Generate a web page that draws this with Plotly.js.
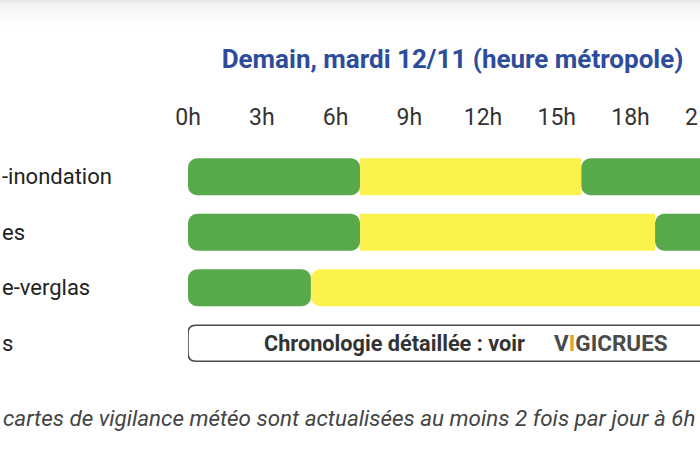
<!DOCTYPE html>
<html>
<head>
<meta charset="utf-8">
<script src="https://cdn.plot.ly/plotly-3.0.1.min.js"></script>
<style>
  html, body { margin: 0; padding: 0; background: #ffffff; overflow: hidden; width: 700px; height: 450px; }
  #chart { width: 790px; height: 450px; }
</style>
</head>
<body>
<div id="chart"></div>
<script>
// ---------- data ----------
const chartTitle = "Demain, mardi 12/11 (heure métropole)";
const rowLabels = ["-inondation", "es", "e-verglas", "s"];
const hourTicks = [0, 3, 6, 9, 12, 15, 18, 21];
const tickSuffix = "h";
// phenomenon chronology: hour breaks and vigilance level of each period
const pluieBreaks = [0, 7, 16, 24];
const pluieLevels = ["vert", "jaune", "vert"];
const oragesBreaks = [0, 7, 19, 24];
const oragesLevels = ["vert", "jaune", "vert"];
const neigeBreaks = [0, 5, 24];
const neigeLevels = ["vert", "jaune"];
const cruesText = "Chronologie détaillée : voir";
const cruesLogo = "VIGICRUES";
const footerText = "cartes de vigilance météo sont actualisées au moins 2 fois par jour à 6h";

// ---------- styles ----------
const levelColors = { vert: "#58a94b", jaune: "#fcf24e" };
const FONT = "Roboto, 'Noto Sans', sans-serif";
const W = 790, H = 450;
const M = { l: 188, r: 12, t: 149, b: 79 };
const plotW = W - M.l - M.r, plotH = H - M.t - M.b;
const px2paperX = X => (X - M.l) / plotW;
const px2paperY = Y => (H - M.b - Y) / plotH;

// ---------- build bar segments ----------
const rowsData = [
  { breaks: pluieBreaks, levels: pluieLevels },
  { breaks: oragesBreaks, levels: oragesLevels },
  { breaks: neigeBreaks, levels: neigeLevels }
];
const firstSeg = { x: [], base: [], y: [], color: [] };
const midSeg = { x: [], base: [], y: [], color: [] };
const lastSeg = { x: [], base: [], y: [], color: [] };
rowsData.forEach((row, r) => {
  const n = row.levels.length;
  for (let i = 0; i < n; i++) {
    const s = row.breaks[i], e = row.breaks[i + 1];
    const c = levelColors[row.levels[i]];
    if (i === 0) {            // drawn from its end back to its start so the start is rounded
      firstSeg.base.push(e); firstSeg.x.push(s - e); firstSeg.y.push(r); firstSeg.color.push(c);
    } else if (i === n - 1) {
      lastSeg.base.push(s); lastSeg.x.push(e - s); lastSeg.y.push(r); lastSeg.color.push(c);
    } else {
      midSeg.base.push(s); midSeg.x.push(e - s); midSeg.y.push(r); midSeg.color.push(c);
    }
  }
});
function barTrace(seg, radius) {
  return {
    type: "bar", orientation: "h",
    x: seg.x, base: seg.base, y: seg.y, width: 0.667,
    marker: { color: seg.color, line: { width: 0 }, cornerradius: radius },
    hoverinfo: "skip", showlegend: false
  };
}
const traces = [barTrace(firstSeg, 9), barTrace(midSeg, 0), barTrace(lastSeg, 9)];

// ---------- shapes ----------
const shapes = [];
// soft grey shadow band at the very top
const bandColors = ["#e9e9e9", "#efefef", "#f2f2f2", "#f4f4f4", "#f6f6f6", "#f7f7f7", "#f8f8f8", "#f9f9f9", "#fafafa", "#fbfbfb", "#fcfcfc", "#fdfdfd", "#fefefe"];
bandColors.forEach((c, i) => {
  shapes.push({ type: "rect", xref: "paper", yref: "paper",
    x0: px2paperX(0), x1: px2paperX(W), y0: px2paperY(i * 2 + 2), y1: px2paperY(i * 2),
    fillcolor: c, line: { width: 0 }, layer: "below" });
});
// rounded box of the "Crues" row
const boxEnd = pluieBreaks[pluieBreaks.length - 1];
const bw = (boxEnd - hourTicks[0]) / 24 * plotW, bh = 18, rr = 8;
shapes.push({
  type: "path", xref: "x", yref: "y",
  xsizemode: "pixel", xanchor: hourTicks[0], ysizemode: "pixel", yanchor: 3,
  path: `M ${rr},${-bh} H ${bw - rr} Q ${bw},${-bh} ${bw},${-bh + rr} V ${bh - rr} Q ${bw},${bh} ${bw - rr},${bh} H ${rr} Q 0,${bh} 0,${bh - rr} V ${-bh + rr} Q 0,${-bh} ${rr},${-bh} Z`,
  line: { color: "#4a4a4a", width: 1.6 }, fillcolor: "rgba(0,0,0,0)"
});

// ---------- annotations ----------
const annotations = [];
rowLabels.forEach((lab, i) => {
  annotations.push({ xref: "paper", yref: "y", x: px2paperX(0), y: i, xanchor: "left", yanchor: "middle",
    text: lab, showarrow: false, font: { family: FONT, size: 22, color: "#222222" } });
});
annotations.push({ xref: "paper", yref: "y", x: px2paperX(262), y: 3, xanchor: "left", yanchor: "middle",
  text: "<b>" + cruesText + "</b>", showarrow: false, font: { family: FONT, size: 21.7, color: "#333333" } });
annotations.push({ xref: "paper", yref: "y", x: px2paperX(552), y: 3, xanchor: "left", yanchor: "middle",
  text: "<b>" + cruesLogo[0] + "<span style='color:#e8a12a'>" + cruesLogo[1] + "</span>" + cruesLogo.slice(2) + "</b>",
  showarrow: false, font: { family: FONT, size: 22.5, color: "#4a4a4a" } });
annotations.push({ xref: "paper", yref: "paper", x: px2paperX(1), y: px2paperY(418), xanchor: "left", yanchor: "middle",
  text: footerText, showarrow: false, font: { family: FONT, size: 22.4, color: "#444444", style: "italic" } });

const layout = {
  width: W, height: H,
  margin: M,
  paper_bgcolor: "#ffffff", plot_bgcolor: "#ffffff",
  barmode: "overlay",
  showlegend: false,
  title: { text: chartTitle, font: { family: FONT, size: 26, color: "#2d4d9c", weight: 700 },
    xref: "container", yref: "container", x: 452.5 / W, y: 1 - 59 / H, xanchor: "center", yanchor: "middle" },
  xaxis: {
    range: [0, 24], side: "top",
    tickmode: "array", tickvals: hourTicks, ticktext: hourTicks.map(h => h + tickSuffix),
    tickfont: { family: FONT, size: 23, color: "#333333" },
    ticks: "", showgrid: false, zeroline: false, showline: false, ticklabelstandoff: 18,
    fixedrange: true
  },
  yaxis: { range: [3.5, -0.5], visible: false, showgrid: false, zeroline: false, fixedrange: true },
  shapes: shapes,
  annotations: annotations
};

Plotly.newPlot("chart", traces, layout, { displayModeBar: false, staticPlot: true });
</script>
</body>
</html>
